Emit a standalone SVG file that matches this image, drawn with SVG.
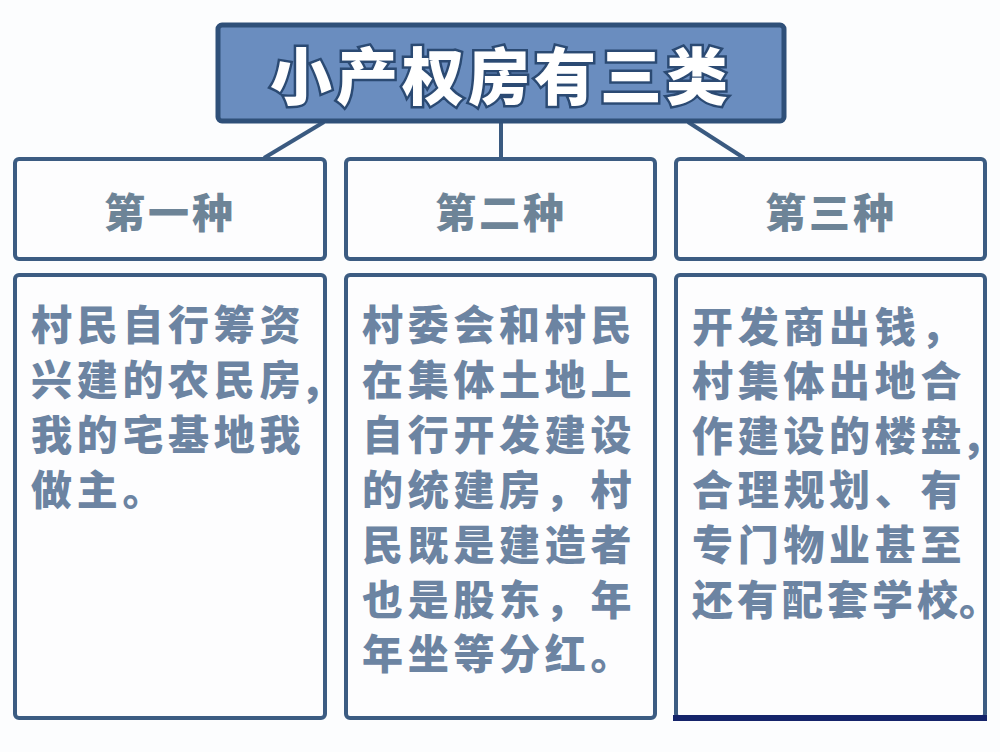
<svg xmlns="http://www.w3.org/2000/svg" width="1000" height="752" viewBox="0 0 1000 752">
<style>
.box{fill:#fdfdfe;stroke:#3c5c82;stroke-width:4}
.conn{stroke:#3a5a80;stroke-width:4;fill:none}
.title{font-family:"Noto Sans CJK SC","Noto Sans",sans-serif;font-weight:900;font-size:62px;fill:#ffffff;stroke:#2b4a73;stroke-width:5;paint-order:stroke;letter-spacing:4px}
.head{font-family:"Noto Sans CJK SC","Noto Sans",sans-serif;font-weight:900;font-size:41px;fill:#6d8497;letter-spacing:3px}
.body{font-family:"Noto Sans CJK SC","Noto Sans",sans-serif;font-weight:900;font-size:41px;fill:#6c84a2;letter-spacing:4.7px}
</style>
<rect width="1000" height="752" fill="#fcfdfe"/>
<g id="connectors">
<line class="conn" x1="324" y1="122" x2="264" y2="158"/>
<line class="conn" x1="501" y1="122" x2="501" y2="158"/>
<line class="conn" x1="688" y1="122" x2="744" y2="158"/>
</g>
<g id="title">
<rect x="218" y="25" width="566" height="96" rx="4" fill="#6a8dbf" stroke="#2f5079" stroke-width="5"/>
<text class="title" x="501" y="73" text-anchor="middle" dominant-baseline="central">小产权房有三类</text>
</g>
<g id="type1">
<rect class="box" x="15" y="159" width="310" height="100" rx="4"/>
<text class="head" x="170" y="210" text-anchor="middle" dominant-baseline="central">第一种</text>
</g>
<g id="type2">
<rect class="box" x="346" y="159" width="309" height="100" rx="4"/>
<text class="head" x="501" y="210" text-anchor="middle" dominant-baseline="central">第二种</text>
</g>
<g id="type3">
<rect class="box" x="676" y="159" width="309" height="100" rx="4"/>
<text class="head" x="831" y="210" text-anchor="middle" dominant-baseline="central">第三种</text>
</g>
<g id="desc1">
<rect class="box" x="15" y="275" width="310" height="443" rx="4"/>
<g class="body" dominant-baseline="central">
<text x="31" y="322">村民自行筹资</text>
<text x="31" y="377">兴建的农民房,</text>
<text x="31" y="432">我的宅基地我</text>
<text x="31" y="487">做主。</text>
</g>
</g>
<g id="desc2">
<rect class="box" x="346" y="275" width="309" height="443" rx="4"/>
<g class="body" dominant-baseline="central">
<text x="362" y="322">村委会和村民</text>
<text x="362" y="377">在集体土地上</text>
<text x="362" y="432">自行开发建设</text>
<text x="362" y="487">的统建房，村</text>
<text x="362" y="542">民既是建造者</text>
<text x="362" y="597">也是股东，年</text>
<text x="362" y="651">年坐等分红。</text>
</g>
</g>
<g id="desc3">
<rect class="box" x="676" y="275" width="309" height="443" rx="4"/>
<line x1="673" y1="718" x2="987" y2="718" stroke="#15246a" stroke-width="6"/>
<g class="body" dominant-baseline="central">
<text x="692" y="324">开发商出钱，</text>
<text x="692" y="378">村集体出地合</text>
<text x="692" y="433">作建设的楼盘,</text>
<text x="692" y="487">合理规划、有</text>
<text x="692" y="542">专门物业甚至</text>
<text x="692" y="597" style="letter-spacing:4px">还有配套学校<tspan x="959" style="letter-spacing:0">。</tspan></text>
</g>
</g>
</svg>
